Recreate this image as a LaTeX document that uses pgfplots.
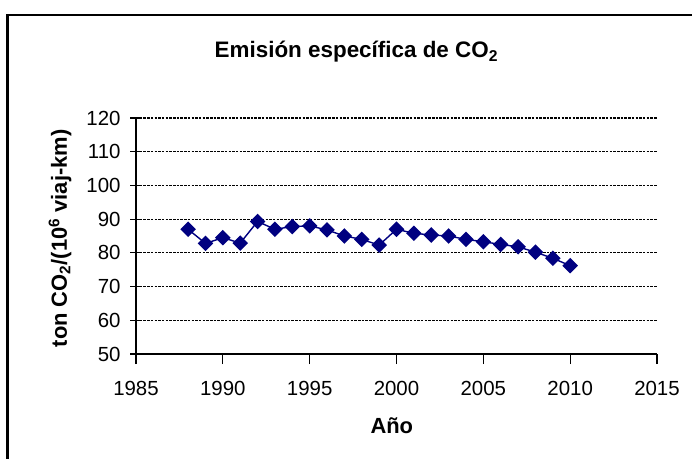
\documentclass[border=0pt]{standalone}
\usepackage{pgfplots}
\pgfplotsset{compat=1.18}
\usepackage{fontspec}
\setmainfont{Liberation Sans}
\definecolor{navyc}{RGB}{0,0,128}
\begin{document}
\begin{tikzpicture}
\begin{axis}[
  at={(136bp,105bp)}, anchor=south west,
  scale only axis, width=521bp, height=236bp,
  xmin=1985, xmax=2015, ymin=50, ymax=120,
  xtick={1985,1990,...,2015}, ytick={50,60,...,120},
  axis x line=bottom, axis y line=left,
  axis line style={-, black, line width=1.4bp},
  tick align=outside, major tick length=10bp,
  tick style={black, line width=1.1bp},
  y tick style={xshift=4bp},
  ymajorgrids,
  major grid style={black, line width=1.1bp, dash pattern=on 2.5bp off 1.2bp},
  /pgf/number format/assume math mode=true,
  /pgf/number format/1000 sep={},
  tick label style={font=\fontsize{20.5}{24}\selectfont},
  xticklabel style={yshift=-14bp},
  yticklabel style={xshift=-2bp},
  title={\textbf{Emisión específica de CO\textsubscript{2}}},
  title style={at={(axis description cs:0.423,1.232)}, anchor=base, font=\fontsize{22.5}{27}\selectfont},
  xlabel={\textbf{Año}},
  xlabel style={at={(axis description cs:0.491,-0.335)}, anchor=base, font=\fontsize{22}{26}\selectfont},
  ylabel={\textbf{ton CO\textsubscript{2}/(10\textsuperscript{6} viaj-km)}},
  ylabel style={at={(axis description cs:-0.146,0.49)}, anchor=center, rotate=0, font=\fontsize{22}{26}\selectfont},
  clip=false,
]
\addplot[navyc, line width=1.4bp, mark=square*, mark size=4.8bp,
  mark options={rotate=45, fill=navyc, draw=navyc, solid}]
  coordinates {
  (1988,87.0) (1989,82.8) (1990,84.5) (1991,82.9) (1992,89.3)
  (1993,87.0) (1994,87.8) (1995,88.0) (1996,86.8) (1997,85.0)
  (1998,84.0) (1999,82.3) (2000,87.0) (2001,85.8) (2002,85.3)
  (2003,85.0) (2004,84.0) (2005,83.3) (2006,82.5) (2007,81.8)
  (2008,80.2) (2009,78.4) (2010,76.2)
  };
\end{axis}
\draw[black, line width=2.2bp] (7.5bp,-30bp) rectangle (730bp,443.7bp);
\pgfresetboundingbox
\useasboundingbox (0,0) rectangle (692bp,459bp);
\end{tikzpicture}
\end{document}
